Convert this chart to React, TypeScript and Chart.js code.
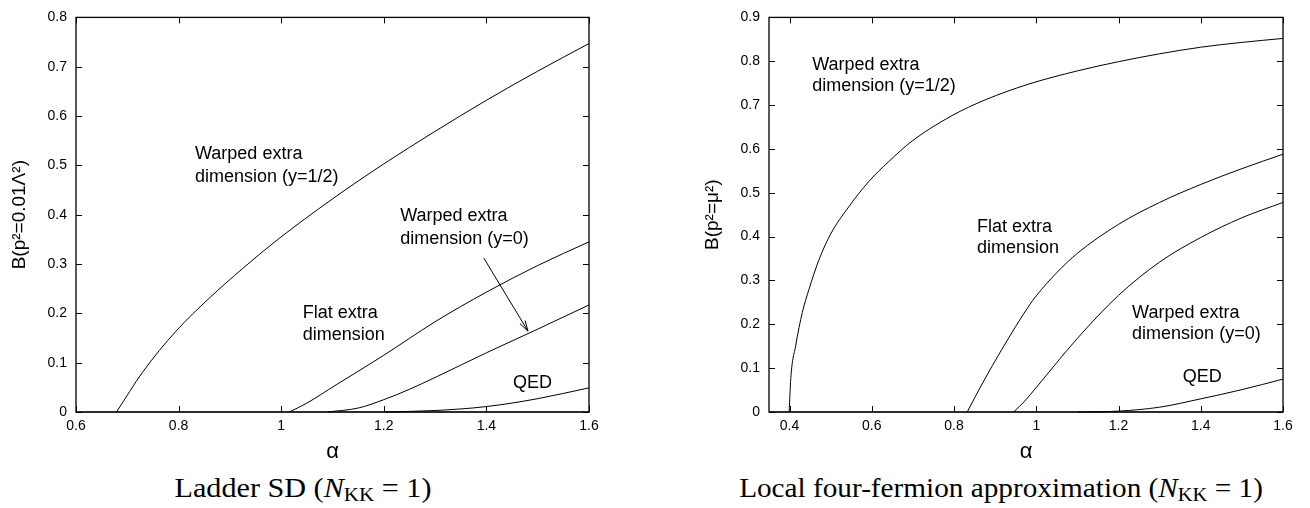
import React, { useEffect, useRef } from "react";
import { Chart, registerables } from "chart.js";
Chart.register(...registerables);

// ---------- Ladder SD (left panel) ----------
const ladderXTicks = [0.6, 0.8, 1, 1.2, 1.4, 1.6];
const ladderXTickLabels = ["0.6", "0.8", "1", "1.2", "1.4", "1.6"];
const ladderYTicks = [0, 0.1, 0.2, 0.3, 0.4, 0.5, 0.6, 0.7, 0.8];
const ladderYTickLabels = ["0", "0.1", "0.2", "0.3", "0.4", "0.5", "0.6", "0.7", "0.8"];

const ladderBaseAlpha = [0.6, 1.6];
const ladderBaseB = [0, 0];
const ladderWarpedHalfAlpha = [0.679, 0.73, 0.795, 0.86, 0.925, 0.99, 1.1, 1.2, 1.3, 1.4, 1.5, 1.6];
const ladderWarpedHalfB = [0, 0.081, 0.164, 0.231, 0.291, 0.347, 0.432, 0.503, 0.569, 0.632, 0.691, 0.747];
const ladderFlatAlpha = [1.016, 1.05, 1.107, 1.2, 1.3, 1.4, 1.5, 1.6];
const ladderFlatB = [0, 0.018, 0.055, 0.115, 0.183, 0.243, 0.297, 0.345];
const ladderWarpedZeroAlpha = [1.09, 1.15, 1.2, 1.25, 1.3, 1.4, 1.5, 1.6];
const ladderWarpedZeroB = [0, 0.008, 0.025, 0.046, 0.07, 0.12, 0.168, 0.217];
const ladderQedAlpha = [1.2, 1.3, 1.4, 1.5, 1.6];
const ladderQedB = [0, 0.003, 0.011, 0.027, 0.049];

const ladderNoteText = ["Warped extra", "dimension (y=1/2)", "Warped extra", "dimension (y=0)", "Flat extra", "dimension", "QED"];
const ladderNoteAlpha = [0.832, 0.832, 1.232, 1.232, 1.042, 1.042, 1.452];
const ladderNoteB = [0.523, 0.477, 0.397, 0.35, 0.2, 0.157, 0.059];
const ladderArrowAlpha = [1.395, 1.481];
const ladderArrowB = [0.312, 0.164];

// ---------- Local four-fermion (right panel) ----------
const localXTicks = [0.4, 0.6, 0.8, 1, 1.2, 1.4, 1.6];
const localXTickLabels = ["0.4", "0.6", "0.8", "1", "1.2", "1.4", "1.6"];
const localYTicks = [0, 0.1, 0.2, 0.3, 0.4, 0.5, 0.6, 0.7, 0.8, 0.9];
const localYTickLabels = ["0", "0.1", "0.2", "0.3", "0.4", "0.5", "0.6", "0.7", "0.8", "0.9"];

const localBaseAlpha = [0.35, 1.6];
const localBaseB = [0, 0];
const localWarpedHalfAlpha = [0.399, 0.403, 0.415, 0.431, 0.447, 0.471, 0.5, 0.544, 0.593, 0.641, 0.698, 0.795, 0.876, 0.982, 1.1, 1.2, 1.3, 1.4, 1.5, 1.6];
const localWarpedHalfB = [0, 0.077, 0.152, 0.227, 0.279, 0.346, 0.406, 0.468, 0.526, 0.571, 0.618, 0.676, 0.712, 0.748, 0.778, 0.799, 0.817, 0.832, 0.843, 0.852];
const localFlatAlpha = [0.832, 0.87, 0.917, 0.982, 1.0, 1.05, 1.1, 1.2, 1.3, 1.4, 1.5, 1.6];
const localFlatB = [0, 0.067, 0.144, 0.242, 0.265, 0.318, 0.362, 0.428, 0.478, 0.519, 0.555, 0.588];
const localWarpedZeroAlpha = [0.945, 0.972, 1.0, 1.1, 1.2, 1.3, 1.4, 1.5, 1.6];
const localWarpedZeroB = [0, 0.025, 0.056, 0.168, 0.266, 0.342, 0.398, 0.443, 0.478];
const localQedAlpha = [1.1, 1.2, 1.3, 1.4, 1.5, 1.6];
const localQedB = [0, 0.002, 0.011, 0.03, 0.051, 0.075];

const localNoteText = ["Warped extra", "dimension (y=1/2)", "Flat extra", "dimension", "Warped extra", "dimension (y=0)", "QED"];
const localNoteAlpha = [0.455, 0.455, 0.856, 0.856, 1.233, 1.233, 1.356];
const localNoteB = [0.791, 0.743, 0.421, 0.373, 0.225, 0.177, 0.079];

const SANS = "'Liberation Sans', Arial, sans-serif";

const framePlugin = {
  id: "frame",
  afterDraw(chart: any, _args: any, opts: any) {
    const { ctx, chartArea } = chart;
    const { left, right, top, bottom } = chartArea;
    const xs = chart.scales.x;
    const ys = chart.scales.y;
    ctx.save();
    ctx.strokeStyle = "#000";
    ctx.lineWidth = 1.3;
    ctx.strokeRect(left, top, right - left, bottom - top);
    ctx.lineWidth = 1;
    const L = 6;
    ctx.beginPath();
    xs.ticks.forEach((t: any) => {
      const px = Math.round(xs.getPixelForValue(t.value)) + 0.5;
      ctx.moveTo(px, bottom);
      ctx.lineTo(px, bottom - L);
      ctx.moveTo(px, top);
      ctx.lineTo(px, top + L);
    });
    ys.ticks.forEach((t: any) => {
      const py = Math.round(ys.getPixelForValue(t.value)) + 0.5;
      ctx.moveTo(left, py);
      ctx.lineTo(left + L, py);
      ctx.moveTo(right, py);
      ctx.lineTo(right - L, py);
    });
    ctx.stroke();

    // notes
    ctx.fillStyle = "#000";
    ctx.font = `18px ${SANS}`;
    ctx.textAlign = "left";
    ctx.textBaseline = "middle";
    const text: string[] = opts.text || [];
    text.forEach((s, i) => {
      ctx.fillText(s, xs.getPixelForValue(opts.alpha[i]), ys.getPixelForValue(opts.b[i]));
    });

    // arrow
    if (opts.arrowAlpha) {
      const x0 = xs.getPixelForValue(opts.arrowAlpha[0]);
      const y0 = ys.getPixelForValue(opts.arrowB[0]);
      const x1 = xs.getPixelForValue(opts.arrowAlpha[1]);
      const y1 = ys.getPixelForValue(opts.arrowB[1]);
      const ang = Math.atan2(y1 - y0, x1 - x0);
      const h = 11;
      const spread = 0.28;
      ctx.lineWidth = 1;
      ctx.beginPath();
      ctx.moveTo(x0, y0);
      ctx.lineTo(x1, y1);
      ctx.moveTo(x1 - h * Math.cos(ang - spread), y1 - h * Math.sin(ang - spread));
      ctx.lineTo(x1, y1);
      ctx.lineTo(x1 - h * Math.cos(ang + spread), y1 - h * Math.sin(ang + spread));
      ctx.stroke();
    }
    ctx.restore();
  },
};

function pts(a: number[], b: number[]) {
  return a.map((x, i) => ({ x, y: b[i] }));
}

function ds(a: number[], b: number[]) {
  return {
    data: pts(a, b),
    showLine: true,
    borderColor: "#000",
    borderWidth: 1,
    pointRadius: 0,
    cubicInterpolationMode: "monotone" as const,
    fill: false,
    clip: 4,
  };
}

type PanelProps = {
  width: number;
  height: number;
  yWidth: number;
  rightPad: number;
  yTitlePad: number;
  xMin: number;
  xMax: number;
  yMax: number;
  xTicks: number[];
  xTickLabels: string[];
  yTicks: number[];
  yTickLabels: string[];
  yTitle: string;
  datasets: any[];
  notes: any;
};

function Panel(p: PanelProps) {
  const ref = useRef<HTMLCanvasElement | null>(null);
  useEffect(() => {
    if (!ref.current) return;
    const chart = new Chart(ref.current, {
      type: "scatter",
      data: { datasets: p.datasets },
      plugins: [framePlugin],
      options: {
        responsive: false,
        animation: false,
        events: [],
        layout: { padding: { left: 0, right: p.rightPad, top: 11, bottom: 0 } },
        plugins: {
          legend: { display: false },
          tooltip: { enabled: false },
          frame: p.notes,
        } as any,
        scales: {
          x: {
            type: "linear",
            min: p.xMin,
            max: p.xMax,
            afterFit: (s: any) => {
              s.height = 58;
            },
            afterBuildTicks: (s: any) => {
              s.ticks = p.xTicks.map((v) => ({ value: v }));
            },
            ticks: {
              callback: (_v: any, i: number) => p.xTickLabels[i],
              padding: 6,
              color: "#000",
              font: { family: SANS, size: 14 },
              maxRotation: 0,
              autoSkip: false,
            },
            grid: { display: false, drawTicks: false },
            border: { display: false },
            title: {
              display: true,
              text: "α",
              color: "#000",
              font: { family: SANS, size: 22, lineHeight: 1 },
              padding: { top: 0, bottom: 7 },
            },
          },
          y: {
            type: "linear",
            min: 0,
            max: p.yMax,
            afterFit: (s: any) => {
              s.width = p.yWidth;
            },
            afterBuildTicks: (s: any) => {
              s.ticks = p.yTicks.map((v) => ({ value: v }));
            },
            ticks: {
              callback: (_v: any, i: number) => p.yTickLabels[i],
              padding: 9,
              color: "#000",
              font: { family: SANS, size: 14 },
              autoSkip: false,
            },
            grid: { display: false, drawTicks: false },
            border: { display: false },
            title: {
              display: true,
              text: p.yTitle,
              color: "#000",
              font: { family: SANS, size: 19, lineHeight: 1 },
              padding: { top: p.yTitlePad, bottom: 0 },
            },
          },
        },
      } as any,
    });
    return () => chart.destroy();
  }, []);
  return <canvas ref={ref} width={p.width} height={p.height} style={{ width: p.width, height: p.height, display: "block" }} />;
}

const captionStyle: React.CSSProperties = {
  position: "absolute",
  top: 488,
  whiteSpace: "nowrap",
  fontFamily: "'Liberation Serif', 'Times New Roman', serif",
  fontSize: 27,
  color: "#000",
  lineHeight: 1,
};
const subStyle: React.CSSProperties = { fontSize: "0.7em", verticalAlign: "-0.25em", lineHeight: 0 };

export default function App() {
  const ladderSets = [
    ds(ladderBaseAlpha, ladderBaseB),
    ds(ladderWarpedHalfAlpha, ladderWarpedHalfB),
    ds(ladderFlatAlpha, ladderFlatB),
    ds(ladderWarpedZeroAlpha, ladderWarpedZeroB),
    ds(ladderQedAlpha, ladderQedB),
  ];
  const localSets = [
    ds(localBaseAlpha, localBaseB),
    ds(localWarpedHalfAlpha, localWarpedHalfB),
    ds(localFlatAlpha, localFlatB),
    ds(localWarpedZeroAlpha, localWarpedZeroB),
    ds(localQedAlpha, localQedB),
  ];
  return (
    <div style={{ position: "fixed", left: 0, top: 0, width: 1310, height: 508, background: "#fff", overflow: "hidden" }}>
      <div style={{ position: "absolute", left: 0, top: 0 }}>
        <Panel
          width={660}
          height={470}
          yWidth={76}
          rightPad={71}
          yTitlePad={10}
          xMin={0.6}
          xMax={1.6}
          yMax={0.8}
          xTicks={ladderXTicks}
          xTickLabels={ladderXTickLabels}
          yTicks={ladderYTicks}
          yTickLabels={ladderYTickLabels}
          yTitle="B(p²=0.01Λ²)"
          datasets={ladderSets}
          notes={{ text: ladderNoteText, alpha: ladderNoteAlpha, b: ladderNoteB, arrowAlpha: ladderArrowAlpha, arrowB: ladderArrowB }}
        />
      </div>
      <div style={{ position: "absolute", left: 660, top: 0 }}>
        <Panel
          width={650}
          height={470}
          yWidth={109}
          rightPad={27}
          yTitlePad={43}
          xMin={0.35}
          xMax={1.6}
          yMax={0.9}
          xTicks={localXTicks}
          xTickLabels={localXTickLabels}
          yTicks={localYTicks}
          yTickLabels={localYTickLabels}
          yTitle="B(p²=μ²)"
          datasets={localSets}
          notes={{ text: localNoteText, alpha: localNoteAlpha, b: localNoteB }}
        />
      </div>
      <div style={{ ...captionStyle, left: 303, transform: "translate(-50%, -50%) scaleX(1.117)" }}>
        Ladder SD (<i>N</i>
        <span style={subStyle}>KK</span> = 1)
      </div>
      <div style={{ ...captionStyle, left: 1001, transform: "translate(-50%, -50%) scaleX(1.083)" }}>
        Local four-fermion approximation (<i>N</i>
        <span style={subStyle}>KK</span> = 1)
      </div>
    </div>
  );
}
